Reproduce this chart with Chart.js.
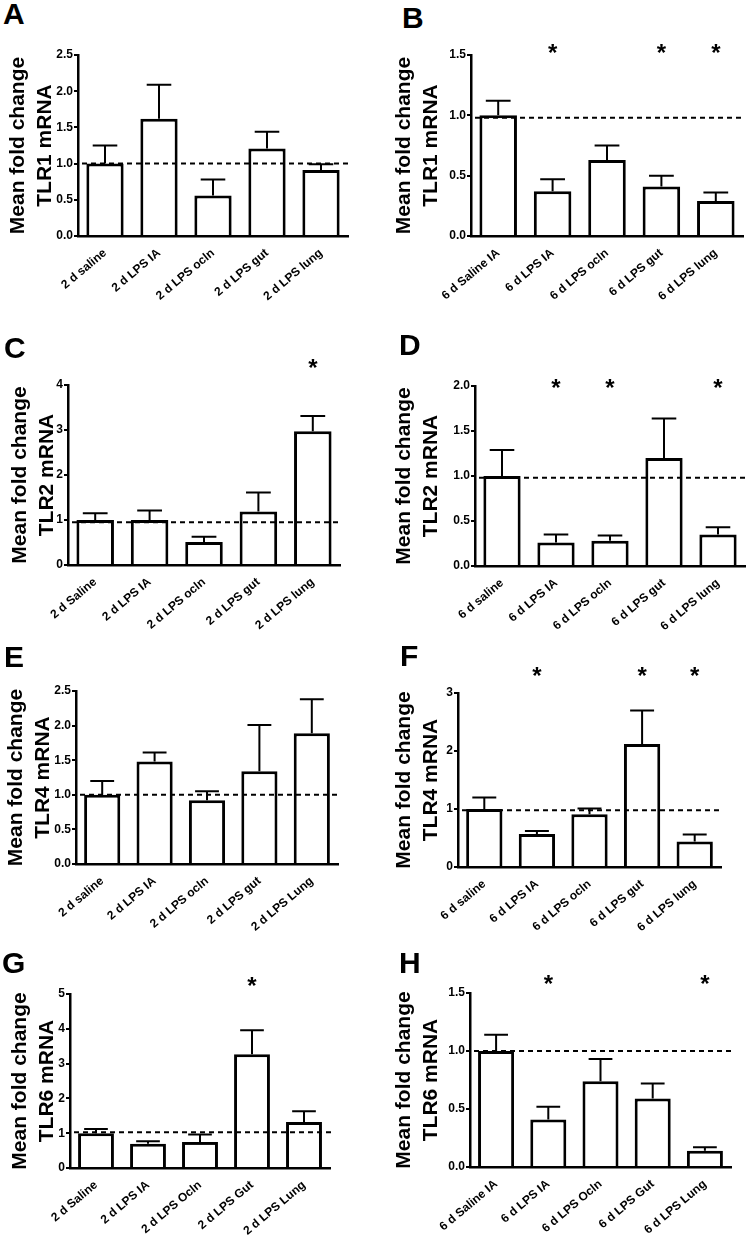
<!DOCTYPE html>
<html>
<head>
<meta charset="utf-8">
<script src="https://cdn.jsdelivr.net/npm/chart.js@4/dist/chart.umd.min.js"></script>
<style>
  body { margin: 0; background: #fff; width: 746px; height: 1241px; position: relative; overflow: hidden;
         font-family: "Liberation Sans", Arial, sans-serif; }
  canvas { position: absolute; }
  .letter { position: absolute; font-weight: bold; font-size: 30px; line-height: 30px; color: #000; }
</style>
</head>
<body>
<script>
// ---- data ----
const labelsA = ['2 d saline', '2 d LPS IA', '2 d LPS ocln', '2 d LPS gut', '2 d LPS lung'];
const meanA = [1.0, 1.62, 0.56, 1.21, 0.91];
const semA = [0.25, 0.47, 0.22, 0.23, 0.08];
const sigA = [0, 0, 0, 0, 0];

const labelsB = ['6 d Saline IA', '6 d LPS IA', '6 d LPS ocln', '6 d LPS gut', '6 d LPS lung'];
const meanB = [1.0, 0.37, 0.63, 0.41, 0.29];
const semB = [0.12, 0.10, 0.12, 0.09, 0.07];
const sigB = [0, 1, 0, 1, 1];

const labelsC = ['2 d Saline', '2 d LPS IA', '2 d LPS ocln', '2 d LPS gut', '2 d LPS lung'];
const meanC = [1.0, 1.0, 0.51, 1.19, 2.97];
const semC = [0.15, 0.21, 0.12, 0.42, 0.34];
const sigC = [0, 0, 0, 0, 1];

const labelsD = ['6 d saline', '6 d LPS IA', '6 d LPS ocln', '6 d LPS gut', '6 d LPS lung'];
const meanD = [1.0, 0.26, 0.28, 1.2, 0.35];
const semD = [0.29, 0.09, 0.06, 0.44, 0.08];
const sigD = [0, 1, 1, 0, 1];

const labelsE = ['2 d saline', '2 d LPS IA', '2 d LPS ocln', '2 d LPS gut', '2 d LPS Lung'];
const meanE = [1.0, 1.48, 0.92, 1.34, 1.89];
const semE = [0.2, 0.13, 0.13, 0.67, 0.49];
const sigE = [0, 0, 0, 0, 0];

const labelsF = ['6 d saline', '6 d LPS IA', '6 d LPS ocln', '6 d LPS gut', '6 d LPS lung'];
const meanF = [1.0, 0.57, 0.91, 2.12, 0.44];
const semF = [0.2, 0.05, 0.1, 0.58, 0.12];
const sigF = [0, 1, 0, 1, 1];

const labelsG = ['2 d Saline', '2 d LPS IA', '2 d LPS Ocln', '2 d LPS Gut', '2 d LPS Lung'];
const meanG = [1.0, 0.7, 0.75, 3.27, 1.32];
const semG = [0.12, 0.07, 0.21, 0.69, 0.31];
const sigG = [0, 0, 0, 1, 0];

const labelsH = ['6 d Saline IA', '6 d LPS IA', '6 d LPS Ocln', '6 d LPS Gut', '6 d LPS Lung'];
const meanH = [1.0, 0.41, 0.74, 0.59, 0.14];
const semH = [0.14, 0.11, 0.19, 0.13, 0.03];
const sigH = [0, 1, 0, 0, 1];

const genes = ['TLR1', 'TLR1', 'TLR2', 'TLR2', 'TLR4', 'TLR4', 'TLR6', 'TLR6'];
const refLevels = [1.0, 0.98, 0.95, 0.98, 1.0, 0.98, 1.03, 1.0];   // dashed line
const yMax = [2.5, 1.5, 4, 2.0, 2.5, 3, 5, 1.5];
const yStep = [0.5, 0.5, 1, 0.5, 0.5, 1, 1, 0.5];

// ---- layout (page pixels) ----
const panels = [
  { letter: 'A', box: [0, 0, 373, 340],     area: [78, 55, 348, 236],    titlePad: 5,  starDy: -8,  pos: [3, 3] },
  { letter: 'B', box: [373, 0, 373, 340],   area: [471, 55, 743, 236],   titlePad: 18, starDy: -8,  pos: [402, 7] },
  { letter: 'C', box: [0, 300, 373, 360],   area: [68, 385, 340, 565],   titlePad: 7,  starDy: -23, pos: [4, 337] },
  { letter: 'D', box: [373, 300, 373, 360], area: [475, 386, 745, 566],  titlePad: 18, starDy: -4,  pos: [399, 334] },
  { letter: 'E', box: [0, 620, 373, 340],   area: [76, 691, 338, 864],   titlePad: 3,  starDy: -8,  pos: [4, 646] },
  { letter: 'F', box: [373, 620, 373, 340], area: [458, 693, 721, 867],  titlePad: 18, starDy: -23, pos: [400, 645] },
  { letter: 'G', box: [0, 920, 373, 321],   area: [70, 994, 330, 1168],  titlePad: 7,  starDy: -14, pos: [2, 952] },
  { letter: 'H', box: [373, 920, 373, 321], area: [470, 993, 731, 1167], titlePad: 18, starDy: -15, pos: [399, 952] }
];

const allLabels = [labelsA, labelsB, labelsC, labelsD, labelsE, labelsF, labelsG, labelsH];
const allMeans = [meanA, meanB, meanC, meanD, meanE, meanF, meanG, meanH];
const allSems = [semA, semB, semC, semD, semE, semF, semG, semH];
const allSigs = [sigA, sigB, sigC, sigD, sigE, sigF, sigG, sigH];

Chart.defaults.font.family = '"Liberation Sans", Arial, sans-serif';
Chart.defaults.color = '#000';

// error bars (upper only), dashed reference line and asterisks
const extras = {
  id: 'extras',
  afterDatasetsDraw(chart, args, opts) {
    const ctx = chart.ctx;
    const y = chart.scales.y;
    const area = chart.chartArea;
    const bars = chart.getDatasetMeta(0).data;
    ctx.save();
    ctx.strokeStyle = '#000';
    ctx.fillStyle = '#000';
    ctx.lineWidth = 2;

    bars.forEach((bar, i) => {
      const top = y.getPixelForValue(opts.mean[i] + opts.sem[i]);
      const half = bar.width * 0.33;
      ctx.beginPath();
      ctx.moveTo(bar.x, bar.y);
      ctx.lineTo(bar.x, top);
      ctx.moveTo(bar.x - half, top);
      ctx.lineTo(bar.x + half, top);
      ctx.stroke();
      if (opts.sig[i]) {
        ctx.font = 'bold 24px "Liberation Sans", Arial, sans-serif';
        ctx.textAlign = 'center';
        ctx.textBaseline = 'alphabetic';
        ctx.fillText('*', bar.x, area.top + opts.starDy + 13.5);
      }
    });

    const yr = y.getPixelForValue(opts.ref);
    ctx.setLineDash([5, 4]);
    ctx.beginPath();
    ctx.moveTo(area.left + 4, yr);
    ctx.lineTo(area.right + 2, yr);
    ctx.stroke();
    ctx.restore();
  }
};

panels.forEach((p, k) => {
  const [bx, by, bw, bh] = p.box;
  const [l, t, r, b] = p.area;

  const div = document.createElement('div');
  div.className = 'letter';
  div.textContent = p.letter;
  div.style.left = p.pos[0] + 'px';
  div.style.top = (p.pos[1] - 4) + 'px';
  document.body.appendChild(div);

  const canvas = document.createElement('canvas');
  canvas.width = bw;
  canvas.height = bh;
  canvas.style.left = bx + 'px';
  canvas.style.top = by + 'px';
  canvas.style.width = bw + 'px';
  canvas.style.height = bh + 'px';
  document.body.appendChild(canvas);

  const step = yStep[k];
  new Chart(canvas, {
    type: 'bar',
    data: {
      labels: allLabels[k],
      datasets: [{
        data: allMeans[k],
        backgroundColor: '#fff',
        borderColor: '#000',
        borderWidth: 3,
        barPercentage: 0.69,
        categoryPercentage: 1
      }]
    },
    options: {
      responsive: false,
      animation: false,
      devicePixelRatio: 1,
      layout: { padding: { left: 0, top: t - by, right: bx + bw - r, bottom: 0 } },
      plugins: {
        legend: { display: false },
        tooltip: { enabled: false },
        extras: { mean: allMeans[k], sem: allSems[k], sig: allSigs[k], ref: refLevels[k], starDy: p.starDy }
      },
      scales: {
        x: {
          grid: { display: false },
          border: { display: true, color: '#000', width: 2.5 },
          ticks: {
            color: '#000',
            font: { size: 12, weight: 'bold' },
            maxRotation: 40, minRotation: 40,
            autoSkip: false,
            padding: 2
          },
          afterFit: s => { s.height = by + bh - b; }
        },
        y: {
          min: 0,
          max: yMax[k],
          ticks: {
            stepSize: step,
            color: '#000',
            font: { size: 12, weight: 'bold' },
            padding: 1,
            callback: v => step < 1 ? v.toFixed(1) : String(v)
          },
          grid: { drawOnChartArea: false, color: '#000', lineWidth: 2, tickLength: 4 },
          border: { display: true, color: '#000', width: 2.5 },
          title: {
            display: true,
            text: ['Mean fold change', genes[k] + ' mRNA'],
            color: '#000',
            font: { size: 21, weight: 'bold', lineHeight: 1.28 },
            padding: { top: p.titlePad, bottom: 0 }
          },
          afterFit: s => { s.width = l - bx; }
        }
      }
    },
    plugins: [extras]
  });
});
</script>
</body>
</html>
